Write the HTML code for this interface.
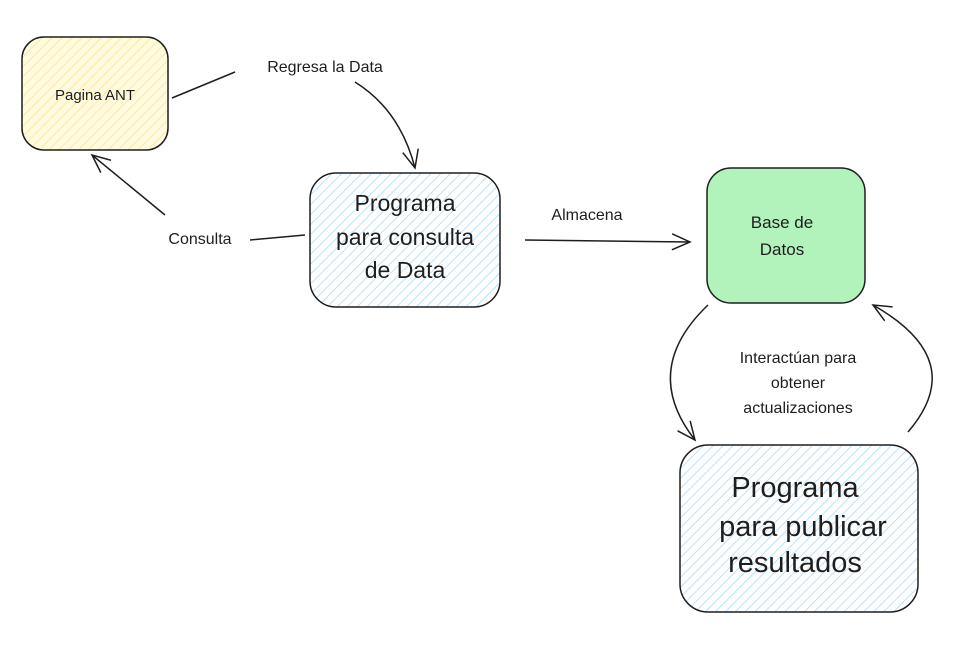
<!DOCTYPE html>
<html><head><meta charset="utf-8"><style>
html,body{margin:0;padding:0;background:#fff;}
svg{display:block;}
text{font-family:"Liberation Sans",sans-serif;fill:#1e1e1e;}
</style></head><body>
<svg width="975" height="645" viewBox="0 0 975 645" xmlns="http://www.w3.org/2000/svg">
<defs>
<pattern id="hb" patternUnits="userSpaceOnUse" width="7" height="7" patternTransform="rotate(45)">
<rect width="7" height="7" fill="#fff"/>
<line x1="0" y1="0" x2="0" y2="7" stroke="#a5d8ff" stroke-width="1.5"/>
</pattern>
<pattern id="hy" patternUnits="userSpaceOnUse" width="7" height="7" patternTransform="rotate(45)">
<rect width="7" height="7" fill="#fffbe0"/>
<line x1="0" y1="0" x2="0" y2="7" stroke="#ffe599" stroke-width="1.8"/>
</pattern>
<marker id="ah" markerWidth="24" markerHeight="20" refX="20" refY="10" orient="auto" markerUnits="userSpaceOnUse">
<path d="M2,2 L20,10 L2,18" fill="none" stroke="#1e1e1e" stroke-width="1.5"/>
</marker>
</defs>
<g stroke="#1e1e1e" stroke-width="1.5" fill="none">
<rect x="22" y="37" width="146" height="113" rx="22" fill="url(#hy)"/>
<rect x="310" y="173" width="190" height="134" rx="26" fill="url(#hb)"/>
<rect x="707" y="168" width="158" height="135" rx="24" fill="#b2f2bb"/>
<rect x="680" y="445" width="238" height="167" rx="28" fill="url(#hb)"/>

<path d="M172,98 L235,72"/>
<path d="M355,82 Q400,110 415,168" marker-end="url(#ah)"/>
<path d="M305,235 L250,240"/>
<path d="M165,215 L92,155" marker-end="url(#ah)"/>
<path d="M525,240 L690,242" marker-end="url(#ah)"/>
<path d="M708,305 Q640,370 695,440" marker-end="url(#ah)"/>
<path d="M908,432 Q970,360 873,305" marker-end="url(#ah)"/>
</g>
<text x="95" y="100" font-size="15" text-anchor="middle">Pagina ANT</text>
<g font-size="23" text-anchor="middle">
<text x="405" y="211">Programa</text>
<text x="405" y="245">para consulta</text>
<text x="405" y="278">de Data</text>
</g>
<g font-size="17" text-anchor="middle">
<text x="782" y="228">Base de</text>
<text x="782" y="255">Datos</text>
</g>
<g font-size="29" text-anchor="middle">
<text x="795" y="497">Programa</text>
<text x="803" y="536">para publicar</text>
<text x="795" y="572">resultados</text>
</g>
<g font-size="16" text-anchor="middle">
<text x="325" y="72">Regresa la Data</text>
<text x="200" y="244">Consulta</text>
<text x="587" y="220">Almacena</text>
<text x="798" y="363">Interactúan para</text>
<text x="798" y="388">obtener</text>
<text x="798" y="413">actualizaciones</text>
</g>
</svg>
</body></html>
